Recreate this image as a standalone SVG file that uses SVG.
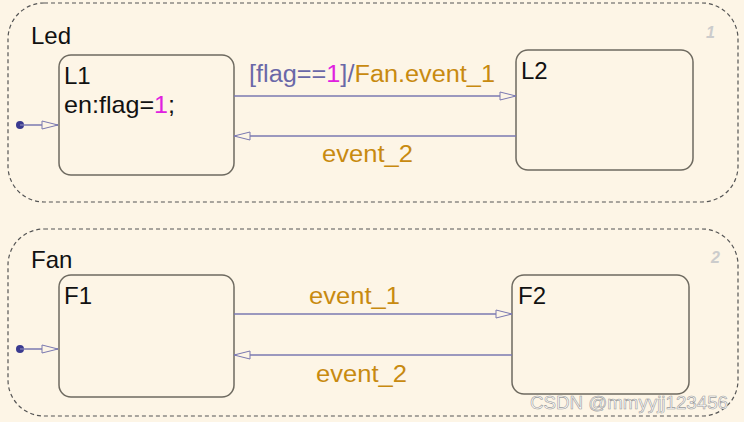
<svg xmlns="http://www.w3.org/2000/svg" width="744" height="422" viewBox="0 0 744 422">
<defs>
<marker id="ah" markerWidth="18" markerHeight="10" refX="17" refY="5" orient="auto" markerUnits="userSpaceOnUse"><path d="M1,1 L17,5 L1,9 Z" fill="#fdf5e6" stroke="#7a78b0" stroke-width="1"/></marker>
<style>
.sup{fill:none;stroke:#555;stroke-width:1.2;stroke-dasharray:4 3}
.st{fill:#fdf5e6;stroke:#6e6a60;stroke-width:1.5}
.ln{stroke:#7a78b0;stroke-width:1.3;fill:none}
.t{font-family:"Liberation Sans",Arial,sans-serif;font-size:24px;fill:#111}
.o{font-family:"Liberation Sans",Arial,sans-serif;font-size:23px;fill:#c88a10}
.num{font-family:"Liberation Sans",Arial,sans-serif;font-size:16px;font-weight:bold;font-style:italic;fill:#cccccc}
</style>
</defs>
<rect width="744" height="422" fill="#fdf5e6"/>
<g id="Led">
<rect class="sup" x="8" y="3" width="730" height="199" rx="36"/>
<text class="t" x="31" y="44">Led</text>
<text class="num" x="706" y="38">1</text>
</g>
<g id="Fan">
<rect class="sup" x="8" y="229" width="730" height="187" rx="36"/>
<text class="t" x="31" y="268">Fan</text>
<text class="num" x="711" y="263">2</text>
</g>
<g id="L1">
<rect class="st" x="59" y="55" width="175" height="120" rx="12"/>
<text class="t" x="64" y="84">L1</text>
<text class="t" x="64" y="113" textLength="111" lengthAdjust="spacingAndGlyphs">en:flag=<tspan fill="#e020e0">1</tspan>;</text>
</g>
<g id="L2">
<rect class="st" x="516" y="50" width="177" height="120" rx="12"/>
<text class="t" x="521" y="79">L2</text>
</g>
<g id="F1">
<rect class="st" x="59" y="275" width="175" height="122" rx="12"/>
<text class="t" x="64" y="304">F1</text>
</g>
<g id="F2">
<rect class="st" x="512" y="275" width="177" height="119" rx="12"/>
<text class="t" x="518" y="304">F2</text>
</g>
<g id="connectors">
<circle cx="20" cy="125" r="4" fill="#3a3a90"/>
<line class="ln" x1="20" y1="125" x2="58" y2="125" marker-end="url(#ah)"/>
<circle cx="20" cy="349" r="4" fill="#3a3a90"/>
<line class="ln" x1="20" y1="349" x2="58" y2="349" marker-end="url(#ah)"/>
<line class="ln" x1="234" y1="96" x2="516" y2="96" marker-end="url(#ah)"/>
<line class="ln" x1="516" y1="136" x2="234" y2="136" marker-end="url(#ah)"/>
<line class="ln" x1="234" y1="314" x2="512" y2="314" marker-end="url(#ah)"/>
<line class="ln" x1="512" y1="355" x2="234" y2="355" marker-end="url(#ah)"/>
<text class="o" x="249" y="82" textLength="246" lengthAdjust="spacingAndGlyphs"><tspan fill="#6a68a8">[flag==</tspan><tspan fill="#e020e0">1</tspan><tspan fill="#6a68a8">]/</tspan>Fan.event_1</text>
<text class="o" x="322" y="162" textLength="91" lengthAdjust="spacingAndGlyphs">event_2</text>
<text class="o" x="309" y="304" textLength="91" lengthAdjust="spacingAndGlyphs">event_1</text>
<text class="o" x="316" y="382" textLength="91" lengthAdjust="spacingAndGlyphs">event_2</text>
</g>
<text x="530" y="409" font-family="Liberation Sans,Arial,sans-serif" font-size="19" textLength="198" lengthAdjust="spacingAndGlyphs" fill="#fff" stroke="#999" stroke-width="0.6">CSDN @mmyyjj123456</text>
</svg>
